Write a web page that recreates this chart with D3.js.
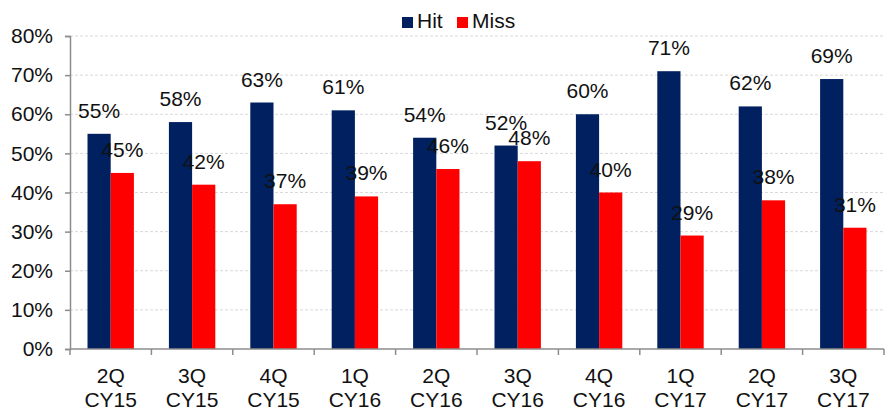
<!DOCTYPE html>
<html>
<head>
<meta charset="utf-8">
<script src="https://cdn.jsdelivr.net/npm/d3@7"></script>
<style>
  html, body { margin: 0; padding: 0; background: #fff; }
  svg { display: block; font-family: "Liberation Sans", Arial, sans-serif; }
</style>
</head>
<body>
<svg id="chart" width="890" height="407"></svg>
<script>
// Quarterly hit / miss shares (percent)
const quarters = ["2Q CY15", "3Q CY15", "4Q CY15", "1Q CY16", "2Q CY16",
                  "3Q CY16", "4Q CY16", "1Q CY17", "2Q CY17", "3Q CY17"];
const hit  = [55, 58, 63, 61, 54, 52, 60, 71, 62, 69];
const miss = [45, 42, 37, 39, 46, 48, 40, 29, 38, 31];
const seriesNames = ["Hit", "Miss"];
const seriesColors = ["#002060", "#FF0000"];
const yTicks = [0, 10, 20, 30, 40, 50, 60, 70, 80];

const FONT = 21;
const svg = d3.select("#chart");
const margin = { left: 70, right: 6, top: 36, bottom: 58 };
const W = 890, H = 407;

const x = d3.scaleBand()
  .domain(quarters)
  .range([margin.left, W - margin.right])
  .paddingInner(0.43).paddingOuter(0.215);

const xSub = d3.scaleBand().domain(seriesNames).range([0, x.bandwidth()]);

const y = d3.scaleLinear().domain([0, 80]).range([H - margin.bottom, margin.top]);

// gridlines
svg.append("g")
  .selectAll("line")
  .data(yTicks.filter(d => d > 0))
  .join("line")
  .attr("x1", margin.left).attr("x2", W - margin.right)
  .attr("y1", d => y(d)).attr("y2", d => y(d))
  .attr("stroke", "#d9d9d9").attr("stroke-width", 1)
  .attr("stroke-dasharray", "3,2");

// bars
const rows = quarters.map((q, i) => ({ q, values: [hit[i], miss[i]] }));
const groups = svg.append("g").selectAll("g")
  .data(rows).join("g")
  .attr("transform", d => `translate(${x(d.q)},0)`);

groups.selectAll("rect")
  .data(d => d.values.map((v, k) => ({ name: seriesNames[k], v, k })))
  .join("rect")
  .attr("x", d => xSub(d.name))
  .attr("width", xSub.bandwidth())
  .attr("y", d => y(d.v))
  .attr("height", d => y(0) - y(d.v))
  .attr("fill", d => seriesColors[d.k]);

// value labels
groups.selectAll("text")
  .data(d => d.values.map((v, k) => ({ name: seriesNames[k], v, k })))
  .join("text")
  .attr("x", d => xSub(d.name) + xSub.bandwidth() / 2)
  .attr("y", d => y(d.v) - 16)
  .attr("text-anchor", "middle")
  .attr("font-size", FONT)
  .attr("fill", "#111")
  .text(d => d.v + "%");

// y axis
const yAxis = d3.axisLeft(y).tickValues(yTicks).tickFormat(d => d + "%").tickSize(5);
const gy = svg.append("g").attr("transform", `translate(${margin.left},0)`).call(yAxis);
gy.select(".domain").attr("stroke", "#8c8c8c").attr("stroke-width", 1.5);
gy.selectAll(".tick line").attr("stroke", "#8c8c8c").attr("stroke-width", 1.5);
gy.selectAll(".tick text").attr("font-size", FONT).attr("fill", "#111")
  .attr("font-family", "Liberation Sans, Arial, sans-serif").attr("x", -17);

// x axis
const gx = svg.append("g").attr("transform", `translate(0,${y(0)})`);
gx.append("line")
  .attr("x1", margin.left).attr("x2", W - margin.right)
  .attr("stroke", "#8c8c8c").attr("stroke-width", 1.5);
const boundaries = d3.range(quarters.length + 1).map(i => margin.left + (W - margin.right - margin.left) * i / quarters.length);
gx.selectAll("line.tk").data(boundaries).join("line")
  .attr("class", "tk")
  .attr("x1", d => d).attr("x2", d => d)
  .attr("y1", 0).attr("y2", 6)
  .attr("stroke", "#8c8c8c").attr("stroke-width", 1.5);
const xl = gx.selectAll("text").data(quarters).join("text")
  .attr("text-anchor", "middle")
  .attr("font-size", FONT).attr("fill", "#111")
  .attr("transform", d => `translate(${x(d) + x.bandwidth() / 2},0)`);
xl.append("tspan").attr("x", 0).attr("y", 34).text(d => d.split(" ")[0]);
xl.append("tspan").attr("x", 0).attr("y", 58).text(d => d.split(" ")[1]);

// legend
const legend = svg.append("g");
const legendItems = [{ name: "Hit", x: 402 }, { name: "Miss", x: 457 }];
legendItems.forEach((it, k) => {
  legend.append("rect").attr("x", it.x).attr("y", 17).attr("width", 11).attr("height", 11)
    .attr("fill", seriesColors[k]);
  legend.append("text").attr("x", it.x + 15).attr("y", 28)
    .attr("font-size", FONT).attr("fill", "#111").text(it.name);
});
</script>
</body>
</html>
